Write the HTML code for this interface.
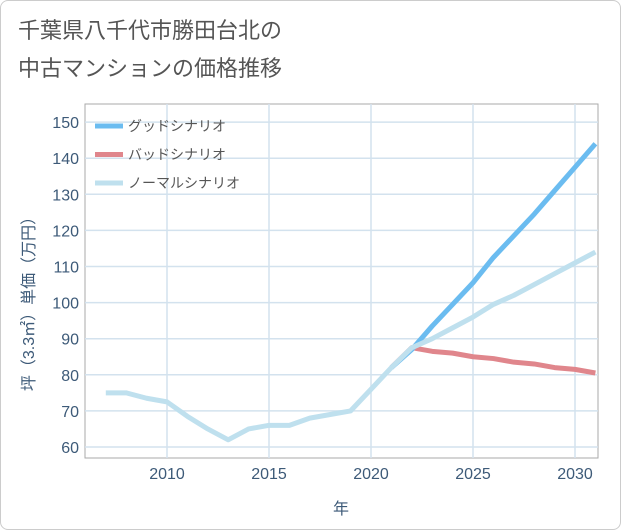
<!DOCTYPE html>
<html><head><meta charset="utf-8"><style>
body{margin:0;background:#fff;}
#wrap{position:relative;width:619px;height:528px;border:1px solid #ccc;border-radius:8px;background:#fff;font-family:"Liberation Sans","Noto Sans CJK JP",sans-serif;}
</style></head><body>
<div id="wrap">
<svg id="c" width="621" height="530" style="position:absolute;left:-1px;top:-1px">
<text x="18" y="38" font-size="22" fill="#555" font-family="Liberation Sans,Noto Sans CJK JP,sans-serif">千葉県八千代市勝田台北の</text>
<text x="18" y="76" font-size="22" fill="#555" font-family="Liberation Sans,Noto Sans CJK JP,sans-serif">中古マンションの価格推移</text>
<g id="grid"></g><g id="lines"></g><g id="axes"></g>
</svg>
</div>
<script>
const years=[2007,2008,2009,2010,2011,2012,2013,2014,2015,2016,2017,2018,2019,2020,2021,2022,2023,2024,2025,2026,2027,2028,2029,2030,2031];
const normal=[75,75,73.5,72.5,68.5,65,62,65,66,66,68,69,70,76,82,87.5,90,93,96,99.5,102,105,108,111,114];
const goodYears=[2021,2022,2023,2024,2025,2026,2027,2028,2029,2030,2031];
const good=[82,87,93.5,99.5,105.5,112.5,118.5,124.5,131,137.5,144];
const bad=[82,87.5,86.5,86,85,84.5,83.5,83,82,81.5,80.5];
const xTicks=[2010,2015,2020,2025,2030];
const yTicks=[60,70,80,90,100,110,120,130,140,150];
const L=85,R=598,T=104,B=458;
const x=v=>167+(v-2010)*20.4;
const y=v=>447-(v-60)*3.61;
const NS="http://www.w3.org/2000/svg";
function mk(p,t,a){const e=document.createElementNS(NS,t);for(const k in a)e.setAttribute(k,a[k]);p.appendChild(e);return e;}
const g=document.getElementById('grid'),ln=document.getElementById('lines'),ax=document.getElementById('axes');
mk(g,'rect',{x:L,y:T,width:R-L,height:B-T,fill:'#fff',stroke:'#aaa','stroke-width':1});
for(const t of xTicks){
 const l=mk(g,'line',{x1:x(t),x2:x(t),y1:T,y2:B,stroke:'#d3e2ee','stroke-width':1.5});
 
 const tx=mk(ax,'text',{x:x(t),y:479,'text-anchor':'middle','font-size':16,fill:'#3d5a78'});tx.textContent=t;
 
}
for(const t of yTicks){
 const l=mk(g,'line',{x1:L,x2:R,y1:y(t),y2:y(t),stroke:'#d3e2ee','stroke-width':1.5});
 
 const tx=mk(ax,'text',{x:79,y:y(t)+6,'text-anchor':'end','font-size':16,fill:'#3d5a78'});tx.textContent=t;
 
}
function path(xs,ys,col,name){
 const d=xs.map((v,i)=>(i?'L':'M')+x(v)+','+y(ys[i])).join(' ');
 const p=mk(ln,'path',{d:d,fill:'none',stroke:col,'stroke-width':5,'stroke-linejoin':'round','clip-path':'url(#clip)'});
 
}
const defs=mk(ln,'defs',{});const cp=mk(defs,'clipPath',{id:'clip'});mk(cp,'rect',{x:L,y:T,width:R-L,height:B-T});
path(goodYears,bad,'#e0868c','bad-scenario-line');
path(goodYears,good,'#6bbcf0','good-scenario-line');
path(years,normal,'#bfe0ee','normal-scenario-line');
const leg=[['グッドシナリオ','#6bbcf0'],['バッドシナリオ','#e0868c'],['ノーマルシナリオ','#bfe0ee']];
leg.forEach((e,i)=>{
 const gy=126+i*28.5;
 const l=mk(ax,'line',{x1:95,x2:123,y1:gy,y2:gy,stroke:e[1],'stroke-width':5});
 
 const t=mk(ax,'text',{x:128,y:gy+5,'font-size':14,fill:'#555'});t.textContent=e[0];
 
});
const xt=mk(ax,'text',{x:341,y:514,'text-anchor':'middle','font-size':16,fill:'#3d5a78'});xt.textContent='年';

const yt=mk(ax,'text',{x:0,y:0,'text-anchor':'middle','font-size':16,fill:'#3d5a78',transform:'translate(34,300) rotate(-90)'});yt.textContent='坪（3.3㎡）単価（万円）';

</script>
</body></html>
